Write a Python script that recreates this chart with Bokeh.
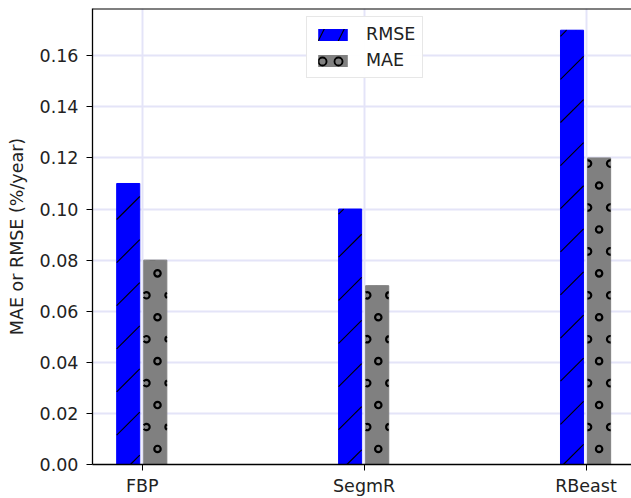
import numpy as np
from bokeh.plotting import figure
from bokeh.models import (Range1d, FixedTicker, NumeralTickFormatter, Legend, LegendItem, Span)
from bokeh.embed import file_html
from bokeh.resources import INLINE

categories = ["FBP", "SegmR", "RBeast"]
rmse = [0.11, 0.10, 0.17]
mae = [0.08, 0.07, 0.12]
y_ticks = [0.00, 0.02, 0.04, 0.06, 0.08, 0.10, 0.12, 0.14, 0.16]

x = np.arange(len(categories))
X0, X1 = -0.224, 2.205
Y1 = 0.1785
BAR_W = 0.104
OFF_RMSE, OFF_MAE = -0.063, 0.059

W, H = 631, 498
FL, FT, FB = 92, 8, 32
FW, FH = W - FL, H - FT - FB

p = figure(width=W, height=H, output_backend="svg", toolbar_location=None,
           x_range=Range1d(X0, X1), y_range=Range1d(0, Y1),
           min_border_left=FL, min_border_right=0, min_border_top=FT, min_border_bottom=FB)
p.outline_line_color = None
p.background_fill_color = "white"
p.border_fill_color = "white"

FONT = "DejaVu Sans"
for ax in (p.xaxis[0], p.yaxis[0]):
    ax.axis_line_color = "black"
    ax.axis_line_width = 1.3
    ax.major_tick_line_color = "black"
    ax.major_tick_out = 6
    ax.major_tick_in = 0
    ax.minor_tick_line_color = None
    ax.major_label_text_font = FONT
    ax.major_label_text_font_size = "17.5px"
    ax.major_label_text_color = "#222222"

p.xaxis.ticker = FixedTicker(ticks=list(x))
p.xaxis.major_label_overrides = {int(i): c for i, c in zip(x, categories)}
p.xaxis.major_label_standoff = 5
p.yaxis.ticker = FixedTicker(ticks=y_ticks)
p.yaxis.formatter = NumeralTickFormatter(format="0.00")
p.yaxis.major_label_standoff = 8
p.yaxis.axis_label = "MAE or RMSE (%/year)"
p.yaxis.axis_label_text_font = FONT
p.yaxis.axis_label_text_font_size = "17.5px"
p.yaxis.axis_label_text_font_style = "normal"
p.yaxis.axis_label_text_color = "#222222"
p.yaxis.axis_label_standoff = 10

p.xgrid.ticker = FixedTicker(ticks=list(x))
for g in (p.xgrid[0], p.ygrid[0]):
    g.grid_line_color = "#e4e4f8"
    g.grid_line_width = 2

# hatched underlays (used for the legend swatches), covered by the plain bars
l1 = p.vbar(x=x + OFF_RMSE, top=rmse, width=BAR_W * 0.8, fill_color="#0000ff", line_color=None,
            hatch_pattern="/", hatch_color="black", hatch_scale=40, hatch_weight=1.1)
l2 = p.vbar(x=x + OFF_MAE, top=mae, width=BAR_W * 0.8, fill_color="#808080", line_color=None,
            hatch_pattern="o", hatch_color="black", hatch_scale=16, hatch_weight=1.8)

# bars
r1 = p.vbar(x=x + OFF_RMSE, top=rmse, width=BAR_W, fill_color="#0000ff", line_color="#0000ff")
r2 = p.vbar(x=x + OFF_MAE, top=mae, width=BAR_W, fill_color="#808080", line_color="#808080")

# screen <-> data helpers for the hatch decoration (canvas-aligned like matplotlib hatching)
def sx(u):
    return FL + (u - X0) / (X1 - X0) * FW

def ux(s):
    return X0 + (s - FL) / FW * (X1 - X0)

def sy(v):
    return FT + (Y1 - v) / Y1 * FH

def vy(s):
    return Y1 - (s - FT) / FH * Y1

# '/' hatch on RMSE bars
P_DIAG, C0 = 43.3, 33.0
hx0, hy0, hx1, hy1 = [], [], [], []
for xi, top in zip(x, rmse):
    L, R = sx(xi + OFF_RMSE - BAR_W / 2), sx(xi + OFF_RMSE + BAR_W / 2)
    T, B = sy(top), sy(0)
    k = int(np.floor((L + T - C0) / P_DIAG))
    while C0 + k * P_DIAG <= R + B:
        c = C0 + k * P_DIAG
        s0, s1 = max(L, c - B), min(R, c - T)
        if s1 > s0:
            hx0.append(ux(s0)); hy0.append(vy(c - s0))
            hx1.append(ux(s1)); hy1.append(vy(c - s1))
        k += 1
p.segment(x0=hx0, y0=hy0, x1=hx1, y1=hy1, line_color="black", line_width=1.1)

# 'o' hatch on MAE bars (staggered rings, clipped at the bar sides)
RX0, RY0, DX, DY = 157.0, 274.0, 11.04, 22.05
RR = 3.2
ox, oy, a0, a1 = [], [], [], []
for xi, top in zip(x, mae):
    L, R = sx(xi + OFF_MAE - BAR_W / 2), sx(xi + OFF_MAE + BAR_W / 2)
    T, B = sy(top), sy(0)
    for a in range(int((L - RX0) // DX) - 1, int((R - RX0) // DX) + 2):
        for b in range(int((T - RY0) // DY) - 1, int((B - RY0) // DY) + 2):
            if (a + b) % 2:
                continue
            X, Y = RX0 + a * DX, RY0 + b * DY
            if not (T + RR - 1 <= Y <= B - RR):
                continue
            kl = (L - X) / RR
            kr = (R - X) / RR
            if kl >= 0.95 or kr <= -0.95:
                continue
            if kl > -1:
                phi = np.arccos(kl)
                start, end = -phi, phi
            elif kr < 1:
                phi = np.arccos(kr)
                start, end = phi, 2 * np.pi - phi
            else:
                start, end = 0.0, 2 * np.pi
            ox.append(ux(X)); oy.append(vy(Y)); a0.append(start); a1.append(end)
p.arc(x=ox, y=oy, radius=RR, radius_units="screen", start_angle=a0, end_angle=a1,
      direction="anticlock", line_color="black", line_width=2.2)

p.add_layout(Span(location=Y1, dimension="width", line_color="black", line_width=2))

legend = Legend(items=[LegendItem(label="RMSE", renderers=[l1]),
                       LegendItem(label="MAE", renderers=[l2])],
                location=(214, 386))
legend.label_text_font = FONT
legend.label_text_font_size = "17.5px"
legend.label_text_color = "#222222"
legend.border_line_color = "#d0d0d0"
legend.border_line_width = 1
legend.padding = 7
legend.spacing = 6
legend.glyph_width = 37
legend.glyph_height = 15
legend.label_standoff = 15
p.add_layout(legend)

open("out.html", "w").write(file_html(p, INLINE))
